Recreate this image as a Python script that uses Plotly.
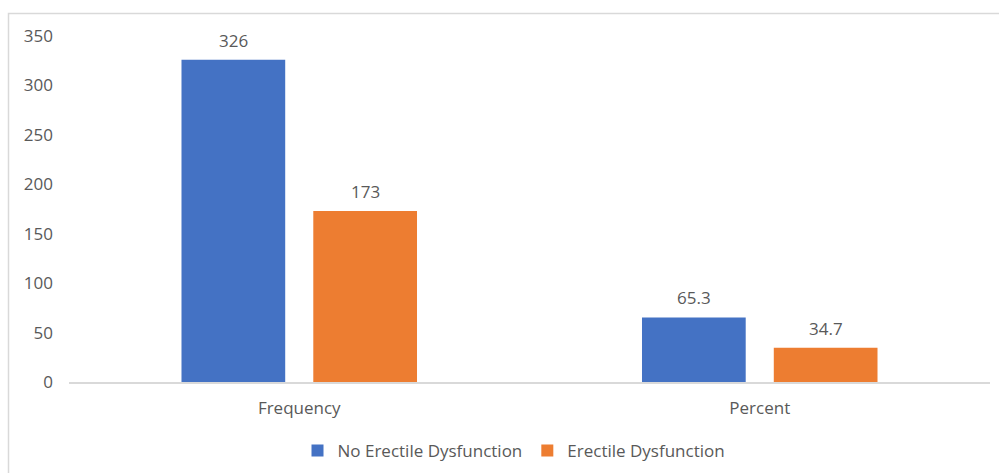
import plotly.graph_objects as go

categories = ["Frequency", "Percent"]
no_ed = [326, 65.3]
ed = [173, 34.7]
y_ticks = [0, 50, 100, 150, 200, 250, 300, 350]

BLUE = "#4472C4"
ORANGE = "#ED7D31"
TEXT = "#595959"
FONT = "Open Sans"

W, H = 999, 473
ML, MR, MT, MB = 69, 9, 36, 91
BARGAP, GROUPGAP = 0.4276, 0.213

fig = go.Figure()
fig.add_trace(go.Bar(
    x=categories, y=no_ed, name="No Erectile Dysfunction",
    marker=dict(color=BLUE, line=dict(width=0)),
))
fig.add_trace(go.Bar(
    x=categories, y=ed, name="Erectile Dysfunction",
    marker=dict(color=ORANGE, line=dict(width=0)),
))

# value labels above each bar, offset to the bar's slot within its group
cat_px = (W - ML - MR) / len(categories)
slot_px = cat_px * (1 - BARGAP) / 2
for series, sign in ((no_ed, -1), (ed, 1)):
    for cat, v in zip(categories, series):
        fig.add_annotation(
            x=cat, y=v, xref="x", yref="y", text=f"{v:g}", showarrow=False,
            xshift=sign * slot_px / 2, yanchor="bottom", yshift=6,
            font=dict(size=17, color=TEXT, family=FONT),
        )

# chart frame
fig.add_shape(type="rect", xref="paper", yref="paper",
              x0=(8.5 - ML) / (W - ML - MR), x1=1.03,
              y0=-0.3, y1=(H - MB - 13.5) / (H - MT - MB),
              line=dict(color="#d9d9d9", width=1.5), layer="below")

fig.update_layout(
    width=W, height=H,
    margin=dict(l=ML, r=MR, t=MT, b=MB, autoexpand=False),
    paper_bgcolor="white", plot_bgcolor="white",
    barmode="group", bargap=BARGAP, bargroupgap=GROUPGAP,
    font=dict(family=FONT, color=TEXT, size=17),
    showlegend=True,
    legend=dict(orientation="h", x=(514 - ML) / (W - ML - MR), xanchor="center",
                yref="container", y=(H - 451) / H, yanchor="middle",
                font=dict(size=17, color=TEXT), itemwidth=30,
                traceorder="normal"),
)
fig.update_xaxes(showgrid=False, showline=True, linecolor="#d9d9d9", linewidth=1.5,
                 ticks="", tickfont=dict(size=17, color=TEXT),
                 ticklabelstandoff=10, automargin=False)
fig.update_yaxes(range=[0, 350], tickvals=y_ticks, showgrid=False, zeroline=False,
                 showline=False, tickfont=dict(size=17, color=TEXT),
                 ticklabelstandoff=15, automargin=False)

fig.write_html("out.html")
